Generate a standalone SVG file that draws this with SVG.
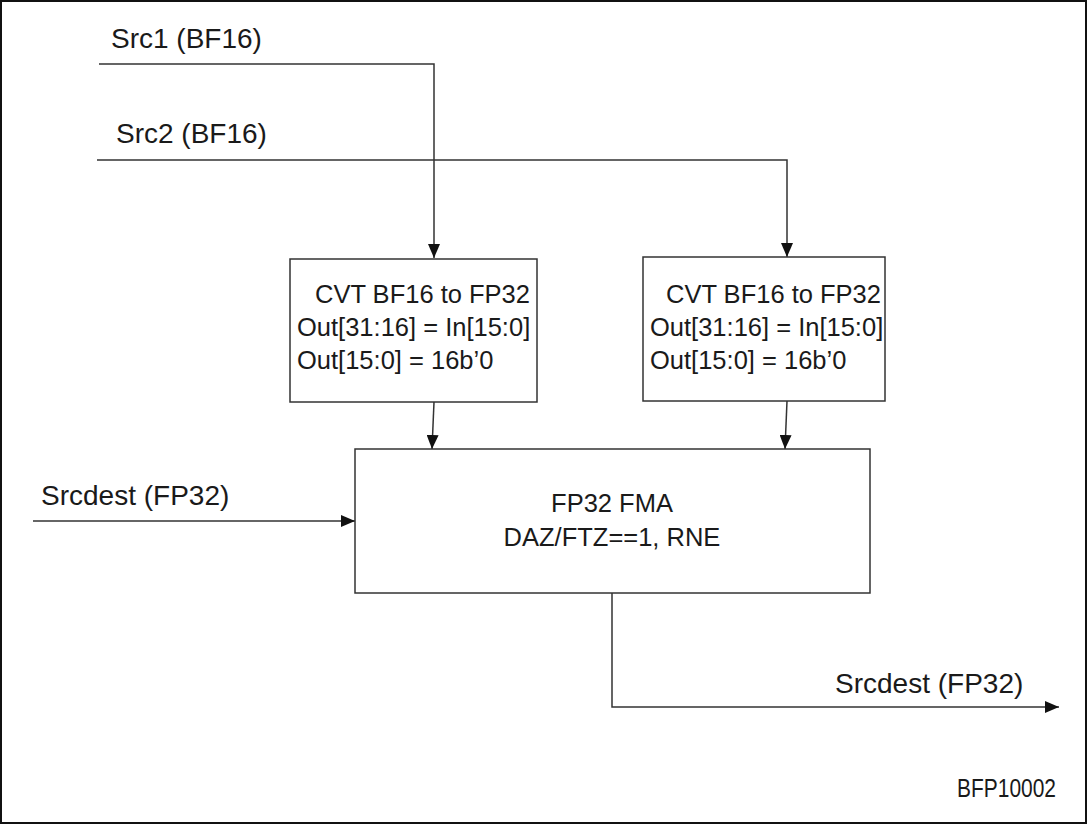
<svg xmlns="http://www.w3.org/2000/svg" width="1088" height="825" viewBox="0 0 1088 825">
<style>
text{font-family:"Liberation Sans",Arial,sans-serif;font-size:25.5px;fill:#1a1a1a}
.lbl{font-size:28px}
.box{fill:#fff;stroke:#333;stroke-width:1.5}
.wire{fill:none;stroke:#333;stroke-width:1.5}
.mid{text-anchor:middle}
</style>
<defs>
<marker id="ah" markerUnits="userSpaceOnUse" markerWidth="14" markerHeight="12" viewBox="0 0 14 12" refX="14" refY="6" orient="auto">
<path d="M0,0 L14,6 L0,12 Z" fill="#111"/>
</marker>
</defs>
<rect x="1" y="1" width="1085" height="822" fill="#fff" stroke="#111" stroke-width="2"/>
<g id="connectors">
<polyline class="wire" points="99,64 434,64 434,258" marker-end="url(#ah)"/>
<polyline class="wire" points="97,160 787,160 787,257" marker-end="url(#ah)"/>
<line class="wire" x1="434" y1="402" x2="432" y2="449" marker-end="url(#ah)"/>
<line class="wire" x1="787" y1="401" x2="785" y2="449" marker-end="url(#ah)"/>
<line class="wire" x1="33" y1="521" x2="355" y2="521" marker-end="url(#ah)"/>
<polyline class="wire" points="612,593 612,707 1059,707" marker-end="url(#ah)"/>
</g>
<g id="labels">
<text class="lbl" x="111" y="48">Src1 (BF16)</text>
<text class="lbl" x="116" y="143">Src2 (BF16)</text>
<text class="lbl" x="41" y="505">Srcdest (FP32)</text>
<text class="lbl" x="835" y="693">Srcdest (FP32)</text>
<text x="957" y="797" font-size="22" textLength="99" lengthAdjust="spacingAndGlyphs">BFP10002</text>
</g>
<g id="cvt1">
<rect class="box" x="290" y="259" width="247" height="143"/>
<text x="315" y="303">CVT BF16 to FP32</text>
<text x="297" y="336">Out[31:16] = In[15:0]</text>
<text x="297" y="369">Out[15:0] = 16b’0</text>
</g>
<g id="cvt2">
<rect class="box" x="643" y="257" width="242" height="144"/>
<text x="666" y="303">CVT BF16 to FP32</text>
<text x="650" y="336">Out[31:16] = In[15:0]</text>
<text x="650" y="369">Out[15:0] = 16b’0</text>
</g>
<g id="fma">
<rect class="box" x="355" y="449" width="515" height="144"/>
<text class="mid" x="612" y="512">FP32 FMA</text>
<text class="mid" x="612" y="546">DAZ/FTZ==1, RNE</text>
</g>
</svg>
